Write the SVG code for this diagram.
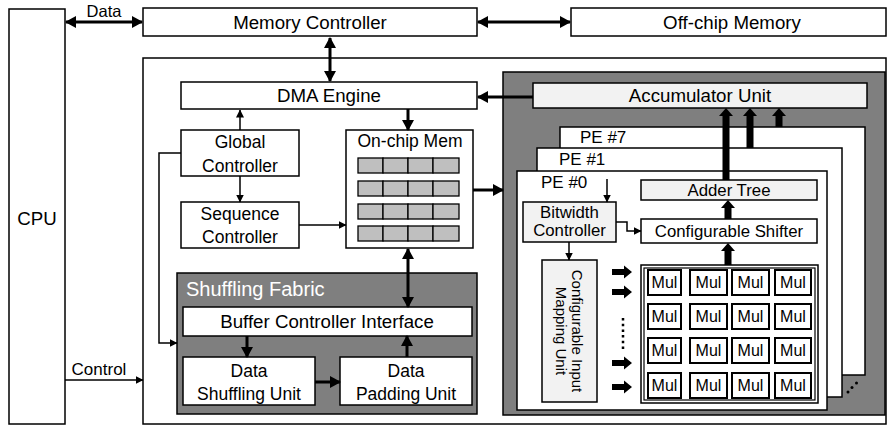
<svg xmlns="http://www.w3.org/2000/svg" width="891" height="428" viewBox="0 0 891 428">
<style>
text{font-family:"Liberation Sans","Open Sans",sans-serif;fill:#000;}
.b{fill:#fff;stroke:#000;stroke-width:1.5;}
.lg{fill:#f2f2f2;stroke:#000;stroke-width:1.5;}
.dg{fill:#7f7f7f;stroke:#000;stroke-width:1.5;}
.cell{fill:#bfbfbf;stroke:#000;stroke-width:1.3;}
.mul{fill:#fff;stroke:#000;stroke-width:2;}
.t19{font-size:18.7px;text-anchor:middle;}
.t18{font-size:17.5px;text-anchor:middle;}
.t16{font-size:16.8px;text-anchor:middle;}
.tm{font-size:16px;text-anchor:middle;}
.med{fill:none;stroke:#000;stroke-width:3;}
.thin{fill:none;stroke:#000;stroke-width:1.5;}
.blk{fill:#000;stroke:none;}
</style>
<defs>
<marker id="mh" markerUnits="userSpaceOnUse" markerWidth="12" markerHeight="12" refX="10" refY="6" orient="auto-start-reverse" viewBox="0 0 12 12">
<path d="M0,0 L11,6 L0,12 z" fill="#000"/>
</marker>
<marker id="th" markerUnits="userSpaceOnUse" markerWidth="9" markerHeight="9" refX="7.5" refY="4" orient="auto-start-reverse" viewBox="0 0 9 8">
<path d="M0,0 L8,4 L0,8 z" fill="#000"/>
</marker>
</defs>

<g id="cpu"><rect class="b" x="9" y="9" width="56" height="415"/><text class="t19" x="37" y="225">CPU</text></g>
<g id="memory-controller"><rect class="b" x="143" y="8" width="334" height="28"/><text class="t19" x="310" y="29">Memory Controller</text></g>
<g id="offchip-memory"><rect class="b" x="571" y="8" width="315" height="28"/><text class="t19" x="732" y="29">Off-chip Memory</text></g>
<g id="accelerator"><rect class="b" x="143" y="58" width="743" height="366"/></g>
<g id="dma-engine"><rect class="b" x="181" y="82" width="296" height="27"/><text class="t19" x="329" y="102">DMA Engine</text></g>
<g id="pe-cluster"><rect class="dg" x="503" y="72" width="382" height="343"/></g>
<g id="accumulator-unit"><rect class="lg" x="533" y="83" width="334" height="25"/><text class="t19" x="700" y="102">Accumulator Unit</text></g>
<g id="global-controller"><rect class="b" x="181" y="130" width="118" height="46"/><text class="t18" x="240" y="148">Global</text><text class="t18" x="240" y="172">Controller</text></g>
<g id="sequence-controller"><rect class="b" x="181" y="202" width="118" height="46"/><text class="t18" x="240" y="220">Sequence</text><text class="t18" x="240" y="243">Controller</text></g>
<g id="onchip-mem"><rect class="b" x="346" y="130" width="127" height="118"/><text class="t18" x="410" y="147">On-chip Mem</text>
<g>
<rect class="cell" x="358" y="158" width="25" height="15"/><rect class="cell" x="383" y="158" width="25" height="15"/><rect class="cell" x="408" y="158" width="25" height="15"/><rect class="cell" x="433" y="158" width="26" height="15"/>
<rect class="cell" x="358" y="181" width="25" height="15"/><rect class="cell" x="383" y="181" width="25" height="15"/><rect class="cell" x="408" y="181" width="25" height="15"/><rect class="cell" x="433" y="181" width="26" height="15"/>
<rect class="cell" x="358" y="204" width="25" height="15"/><rect class="cell" x="383" y="204" width="25" height="15"/><rect class="cell" x="408" y="204" width="25" height="15"/><rect class="cell" x="433" y="204" width="26" height="15"/>
<rect class="cell" x="358" y="226" width="25" height="15"/><rect class="cell" x="383" y="226" width="25" height="15"/><rect class="cell" x="408" y="226" width="25" height="15"/><rect class="cell" x="433" y="226" width="26" height="15"/>
</g></g>
<g id="shuffling-fabric"><rect class="dg" x="177" y="273" width="300" height="141"/><text x="186" y="296" style="font-size:20px;fill:#fff">Shuffling Fabric</text></g>
<g id="buffer-controller-interface"><rect class="b" x="183" y="307" width="289" height="29"/><text class="t19" x="327" y="328">Buffer Controller Interface</text></g>
<g id="data-shuffling-unit"><rect class="b" x="183" y="357" width="132" height="48"/><text class="t18" x="249" y="377">Data</text><text class="t18" x="249" y="400">Shuffling Unit</text></g>
<g id="data-padding-unit"><rect class="b" x="340" y="357" width="132" height="48"/><text class="t18" x="406" y="377">Data</text><text class="t18" x="406" y="400">Padding Unit</text></g>

<g id="pe7"><rect class="b" x="560" y="127" width="305" height="248"/><text x="580" y="143" style="font-size:17px">PE #7</text></g>
<g id="pe1"><rect class="b" x="537" y="148" width="305" height="249"/><text x="559" y="165" style="font-size:17px">PE #1</text></g>
<g id="pe0"><rect class="b" x="517" y="171" width="310" height="239"/><text x="541" y="188" style="font-size:17px">PE #0</text></g>
<g id="adder-tree"><rect class="lg" x="641" y="180" width="176" height="20"/><text class="t16" x="729" y="196">Adder Tree</text></g>
<g id="configurable-shifter"><rect class="b" x="641" y="219" width="176" height="24"/><text class="t16" x="729" y="237">Configurable Shifter</text></g>
<g id="bitwidth-controller"><rect class="lg" x="523" y="202" width="93" height="40"/><text class="t16" x="569.5" y="218">Bitwidth</text><text class="t16" x="569.5" y="236">Controller</text></g>
<g id="input-mapping-unit"><rect class="lg" x="542" y="260" width="55" height="142"/>
<g transform="translate(569.5,331) rotate(90)"><text x="0" y="-2" style="font-size:15px;text-anchor:middle">Configurable Input</text><text x="0" y="14" style="font-size:15px;text-anchor:middle">Mapping Unit</text></g></g>
<g id="mul-array"><rect class="b" x="641" y="265" width="177" height="138"/><rect fill="none" stroke="#000" stroke-width="1.2" x="644" y="268" width="171" height="132"/>
<g>
<rect class="mul" x="648" y="270" width="33" height="25"/><rect class="mul" x="690" y="270" width="37" height="25"/><rect class="mul" x="732" y="270" width="37" height="25"/><rect class="mul" x="775" y="270" width="36" height="25"/>
<rect class="mul" x="648" y="304" width="33" height="25"/><rect class="mul" x="690" y="304" width="37" height="25"/><rect class="mul" x="732" y="304" width="37" height="25"/><rect class="mul" x="775" y="304" width="36" height="25"/>
<rect class="mul" x="648" y="338" width="33" height="25"/><rect class="mul" x="690" y="338" width="37" height="25"/><rect class="mul" x="732" y="338" width="37" height="25"/><rect class="mul" x="775" y="338" width="36" height="25"/>
<rect class="mul" x="648" y="373" width="33" height="25"/><rect class="mul" x="690" y="373" width="37" height="25"/><rect class="mul" x="732" y="373" width="37" height="25"/><rect class="mul" x="775" y="373" width="36" height="25"/>
</g>
<g class="tm">
<text x="664.5" y="288">Mul</text><text x="708.5" y="288">Mul</text><text x="750.5" y="288">Mul</text><text x="793" y="288">Mul</text>
<text x="664.5" y="322">Mul</text><text x="708.5" y="322">Mul</text><text x="750.5" y="322">Mul</text><text x="793" y="322">Mul</text>
<text x="664.5" y="356">Mul</text><text x="708.5" y="356">Mul</text><text x="750.5" y="356">Mul</text><text x="793" y="356">Mul</text>
<text x="664.5" y="391">Mul</text><text x="708.5" y="391">Mul</text><text x="750.5" y="391">Mul</text><text x="793" y="391">Mul</text>
</g></g>

<g id="connectors">
<line class="med" x1="66" y1="22" x2="142" y2="22" marker-start="url(#mh)" marker-end="url(#mh)"/>
<line class="med" x1="478" y1="22" x2="570" y2="22" marker-start="url(#mh)" marker-end="url(#mh)"/>
<line class="med" x1="330" y1="38" x2="330" y2="81" marker-start="url(#mh)" marker-end="url(#mh)"/>
<line class="med" x1="533" y1="97" x2="478" y2="97" marker-end="url(#mh)"/>
<line class="med" x1="408" y1="109" x2="408" y2="130" marker-end="url(#mh)"/>
<line class="med" x1="473" y1="190" x2="503" y2="190" marker-end="url(#mh)"/>
<line class="med" x1="408" y1="249" x2="408" y2="307" marker-start="url(#mh)" marker-end="url(#mh)"/>
<line class="med" x1="247" y1="336" x2="247" y2="357" marker-end="url(#mh)"/>
<line class="med" x1="315" y1="382" x2="340" y2="382" marker-end="url(#mh)"/>
<line class="med" x1="407" y1="357" x2="407" y2="336" marker-end="url(#mh)"/>
<line class="thin" x1="240" y1="130" x2="240" y2="110" marker-end="url(#th)"/>
<line class="thin" x1="240" y1="176" x2="240" y2="202" marker-end="url(#th)"/>
<line class="thin" x1="299" y1="225" x2="346" y2="225" marker-end="url(#th)"/>
<line class="thin" x1="65" y1="380" x2="143" y2="380" marker-end="url(#th)"/>
<polyline class="thin" points="181,153 159,153 159,343 177,343" marker-end="url(#th)"/>
<line class="thin" x1="607" y1="179" x2="607" y2="202" marker-end="url(#th)"/>
<polyline class="thin" points="616,222 627,222 627,231 641,231" marker-end="url(#th)"/>
<line class="thin" x1="569" y1="242" x2="569" y2="260" marker-end="url(#th)"/>
<path class="blk" d="M722.5,180 L722.5,116 L719,116 L726,108 L733,116 L729.5,116 L729.5,180Z"/>
<path class="blk" d="M746.5,148 L746.5,116 L743,116 L750,108 L757,116 L753.5,116 L753.5,148Z"/>
<path class="blk" d="M775.5,127 L775.5,116 L772,116 L779,108 L786,116 L782.5,116 L782.5,127Z"/>
<path class="blk" d="M724.5,219 L724.5,208 L721,208 L728,200 L735,208 L731.5,208 L731.5,219Z"/>
<path class="blk" d="M724.5,265 L724.5,251 L721,251 L728,243 L735,251 L731.5,251 L731.5,265Z"/>
<path class="blk" d="M612,269 L624,269 L624,265.5 L632,272 L624,278.5 L624,275 L612,275Z"/>
<path class="blk" d="M612,289 L624,289 L624,285.5 L632,292 L624,298.5 L624,295 L612,295Z"/>
<path class="blk" d="M612,360 L624,360 L624,356.5 L632,363 L624,369.5 L624,366 L612,366Z"/>
<path class="blk" d="M612,384 L624,384 L624,380.5 L632,387 L624,393.5 L624,390 L612,390Z"/>
<line x1="623" y1="318" x2="623" y2="352" stroke="#000" stroke-width="2.5" stroke-dasharray="2.5 3.2"/>
<circle cx="848" cy="392" r="1.5" fill="#000"/><circle cx="852" cy="387.5" r="1.5" fill="#000"/><circle cx="856.5" cy="383" r="1.5" fill="#000"/>
<text x="104" y="17" style="font-size:16.5px;text-anchor:middle">Data</text>
<text x="99" y="375" style="font-size:17px;text-anchor:middle">Control</text>
</g>
</svg>
